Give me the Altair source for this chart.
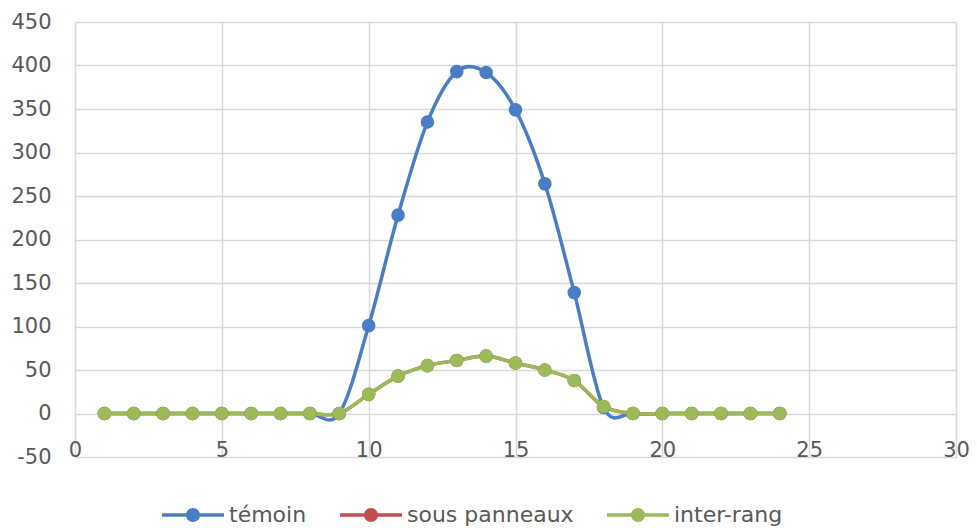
import altair as alt
import pandas as pd

hours = list(range(1, 25))
temoin = [0, 0, 0, 0, 0, 0, 0, 0, 0, 101, 228, 335, 393, 392, 349, 264, 139, 7, 0, 0, 0, 0, 0, 0]
sous_panneaux = [0, 0, 0, 0, 0, 0, 0, 0, 0, 22, 43, 55, 61, 66, 58, 50, 38, 8, 0, 0, 0, 0, 0, 0]
inter_rang = [0, 0, 0, 0, 0, 0, 0, 0, 0, 22, 43, 55, 61, 66, 58, 50, 38, 8, 0, 0, 0, 0, 0, 0]
series_names = ["témoin", "sous panneaux", "inter-rang"]
series_colors = ["#4A7EC4", "#C0504D", "#9BBB59"]

rows = []
for rank, (name, vals) in enumerate(zip(series_names, [temoin, sous_panneaux, inter_rang])):
    for h, v in zip(hours, vals):
        rows.append({"x": h, "y": v, "serie": name, "rank": rank})
df = pd.DataFrame(rows)

FONT = "DejaVu Sans"
GRID = "#D9D9D9"
LAB = "#595959"

x_scale = alt.Scale(domain=[0, 30], nice=False, zero=False)
y_scale = alt.Scale(domain=[-50, 450], nice=False)
color_scale = alt.Scale(domain=series_names, range=series_colors)

# unit = 31 px (symbolSize 3844): line 62 px long, 3.4 px thick, circle 14 px across
legend_path = ("M-1,-0.055H1V0.055H-1Z "
               "M-0.226,0A0.226,0.226 0 1,1 0.226,0A0.226,0.226 0 1,1 -0.226,0Z")

legend = alt.Legend(orient="none", legendX=87, legendY=462,
                    direction="horizontal", title=None,
                    symbolType=legend_path, symbolSize=3844,
                    symbolStrokeWidth=0,
                    labelFontSize=22, labelColor=LAB, labelFont=FONT,
                    labelLimit=400,
                    labelOffset=5, columnPadding=33, symbolOpacity=1)

lines = alt.Chart(df).mark_line(strokeWidth=3.5, interpolate="cardinal").encode(
    x=alt.X("x:Q", scale=x_scale,
            axis=alt.Axis(values=[0, 5, 10, 15, 20, 25, 30], grid=True, gridColor=GRID,
                          gridWidth=1.5, domain=False, ticks=False, labels=True,
                          labelPadding=-18, labelFontSize=21, labelColor=LAB,
                          labelFont=FONT, title=None, labelFlush=False)),
    y=alt.Y("y:Q", scale=y_scale,
            axis=alt.Axis(values=list(range(-50, 451, 50)), grid=True, gridColor=GRID,
                          gridWidth=1.5, domain=False, ticks=False, labelPadding=24,
                          labelFontSize=21, labelColor=LAB, labelFont=FONT, title=None,
                          labelExpr="toString(datum.value)")),
    color=alt.Color("serie:N", scale=color_scale, sort=series_names, legend=legend),
    detail="serie:N",
    order=alt.Order("rank:Q"),
)

points = alt.Chart(df).mark_circle(size=185, opacity=1).encode(
    x="x:Q",
    y="y:Q",
    color=alt.Color("serie:N", scale=color_scale, sort=series_names, legend=legend),
    order=alt.Order("rank:Q"),
)

chart = alt.layer(lines, points).properties(
    width=881, height=435,
    padding={"left": 67, "top": 14, "right": 13, "bottom": 72},
    autosize=alt.AutoSizeParams(type="none"),
).configure_view(stroke=None).configure(background="white")

chart.save("out.html", embed_options={"renderer": "svg", "actions": False})
